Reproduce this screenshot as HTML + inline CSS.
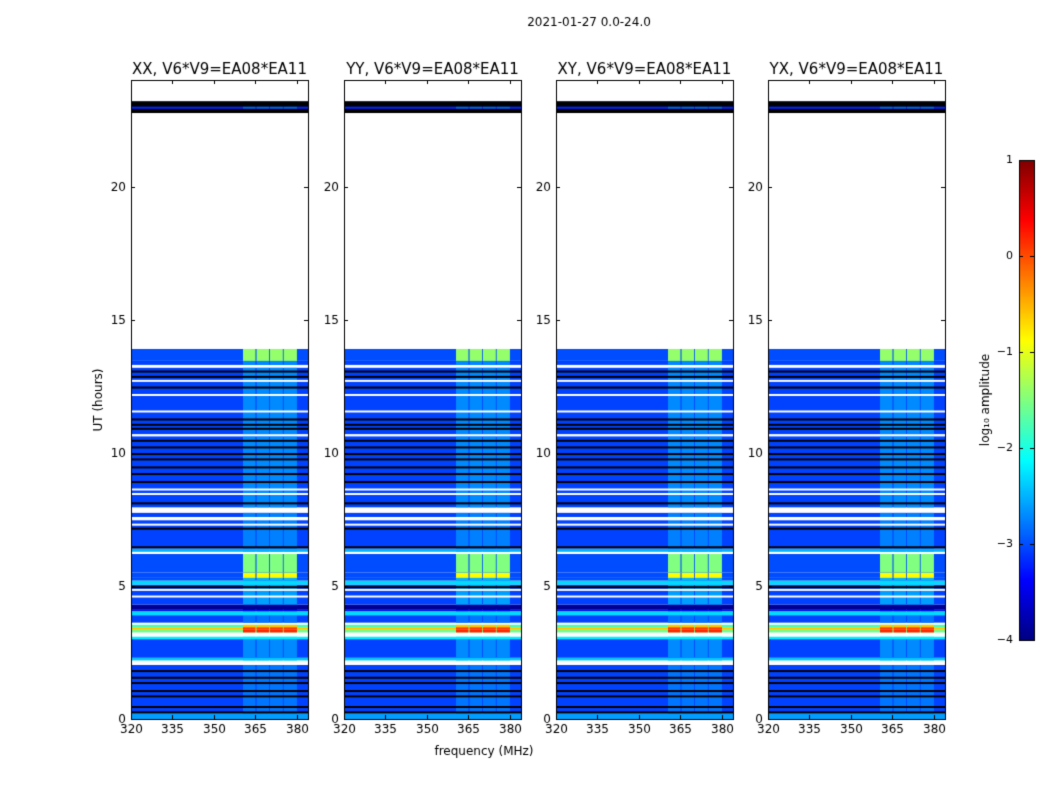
<!DOCTYPE html>
<html><head><meta charset="utf-8">
<style>
body{margin:0;background:#fff;}
#wrap{position:relative;width:1050px;height:800px;font-family:"DejaVu Sans","Liberation Sans",sans-serif;color:#000;}
canvas{position:absolute;left:0;top:0;}
</style></head>
<body>
<div id="wrap">
<canvas id="cv" width="1050" height="800"></canvas>
</div>
<script>
// ---- data ----
const panelTitles = ["XX, V6*V9=EA08*EA11","YY, V6*V9=EA08*EA11","XY, V6*V9=EA08*EA11","YX, V6*V9=EA08*EA11"];
const suptitle = "2021-01-27 0.0-24.0";
const freqTicks = [320,335,350,365,380];
const timeTicks = [0,5,10,15,20];
const cbarTicks = [-4,-3,-2,-1,0,1];
// segments: start hour, end hour, base log10 amplitude (null = no data/white)
const segStart = [0.0,0.2,2.03,2.2,2.3,3.0,3.1,3.25,3.35,3.45,3.55,3.62,3.9,4.05,4.1,4.3,5.05,5.2,5.3,5.5,6.2,6.28,6.4,7.75,7.95,10.62,10.7,13.2,13.3,13.45,13.9,22.76,23.2];
const segEnd   = [0.2,2.03,2.2,2.3,3.0,3.1,3.25,3.35,3.45,3.55,3.62,3.9,4.05,4.1,4.3,5.05,5.2,5.3,5.5,6.2,6.28,6.4,7.75,7.95,10.62,10.7,13.2,13.3,13.45,13.9,22.76,23.2,24.0];
const segBase  = [-2.6,-3.05,null,-2.4,-3.05,-2.2,null,-1.6,-0.6,-1.8,null,-3.05,-2.3,-3.3,-3.9,-3.05,-2.3,-3.0,-3.0,-3.0,null,-2.5,-3.05,null,-3.05,null,-3.05,null,-3.05,-3.0,null,-3.2,null];
// amplitude inside the 360-380 MHz band blocks
const segBand  = [-2.6,-2.8,null,-2.4,-2.7,-2.2,null,0.2,0.1,-0.6,null,-2.8,-2.3,-3.3,-3.9,-2.6,-2.3,-2.5,-0.9,-1.5,null,-2.5,-2.75,null,-2.7,null,-2.7,null,-2.7,-1.4,null,-2.9,null];
// thin flagged (black) and blank (white) rows, hours
const blackRows = [0.25,0.45,0.85,1.05,1.35,1.55,1.8,4.95,6.45,7.15,8.1,8.9,9.2,9.45,9.75,9.95,10.2,10.45,10.9,11.05,11.25,12.45,12.85,13.05,22.8];
const whiteRows = [4.6,4.85,7.3,7.5,7.55,8.45,8.62,11.55,12.17,12.7];
const bandLo = [360.5,365.4,370.2,375.2];
const bandHi = [365.0,369.9,374.9,380.0];

// ---- geometry ----
const panelX0 = [131,344,556,768], panelW = 177, yTop = 80, yBot = 719;
const fMin = 320, fMax = 384.0, tMin = 0, tMax = 24;
const cv = document.getElementById('cv'), ctx = cv.getContext('2d');
function xs(p,f){return panelX0[p]+(f-fMin)/(fMax-fMin)*panelW;}
function ys(t){return yBot-(t-tMin)/(tMax-tMin)*(yBot-yTop);}
function jet(v){ // v in [-4,1]
  let x=(v+4)/5; x=Math.max(0,Math.min(1,x));
  const c=t=>Math.round(255*Math.max(0,Math.min(1,t)));
  return `rgb(${c(1.5-Math.abs(4*x-3))},${c(1.5-Math.abs(4*x-2))},${c(1.5-Math.abs(4*x-1))})`;
}
ctx.fillStyle='#fff';ctx.fillRect(0,0,1050,800);
for(let p=0;p<4;p++){
  for(let i=0;i<segStart.length;i++){
    const y0=ys(segEnd[i]), y1=ys(segStart[i]);
    if(segBase[i]===null){ctx.fillStyle='#fff';ctx.fillRect(xs(p,fMin),y0,panelW,y1-y0);continue;}
    ctx.fillStyle=jet(segBase[i]);ctx.fillRect(xs(p,fMin),y0,panelW,y1-y0);
    ctx.fillStyle=jet(segBand[i]);
    for(let b=0;b<bandLo.length;b++){ctx.fillRect(xs(p,bandLo[b]),y0,xs(p,bandHi[b])-xs(p,bandLo[b]),y1-y0);}
  }
  ctx.fillStyle='#000';
  blackRows.forEach(t=>ctx.fillRect(xs(p,fMin),ys(t)-1,panelW,2));
  ctx.fillRect(xs(p,fMin),ys(23.2),panelW,ys(23.0)-ys(23.2));
  ctx.fillRect(xs(p,fMin),ys(22.92),panelW,ys(22.76)-ys(22.92));
  ctx.fillStyle='#fff';
  whiteRows.forEach(t=>ctx.fillRect(xs(p,fMin),ys(t)-1,panelW,2));
  // frame
  ctx.strokeStyle='#000';ctx.lineWidth=1;
  ctx.strokeRect(panelX0[p]+0.5,yTop+0.5,panelW,yBot-yTop);
  ctx.fillStyle='#000';ctx.font='12px "DejaVu Sans",sans-serif';
  ctx.textAlign='center';ctx.textBaseline='top';
  freqTicks.forEach(f=>{const x=Math.round(xs(p,f))+0.5;
    ctx.beginPath();ctx.moveTo(x,yBot);ctx.lineTo(x,yBot-4);ctx.moveTo(x,yTop);ctx.lineTo(x,yTop+4);ctx.stroke();
    ctx.fillText(String(f),x,yBot+5);});
  ctx.textAlign='right';ctx.textBaseline='middle';
  timeTicks.forEach(t=>{const y=Math.round(ys(t))+0.5;
    ctx.beginPath();ctx.moveTo(panelX0[p],y);ctx.lineTo(panelX0[p]+4,y);ctx.moveTo(panelX0[p]+panelW,y);ctx.lineTo(panelX0[p]+panelW-4,y);ctx.stroke();
    ctx.fillText(String(t),panelX0[p]-5,y);});
  ctx.textAlign='center';ctx.textBaseline='alphabetic';ctx.font='15px "DejaVu Sans",sans-serif';
  ctx.fillText(panelTitles[p],panelX0[p]+panelW/2,74);
}
ctx.fillStyle='#000';
ctx.font='12px "DejaVu Sans",sans-serif';ctx.textAlign='center';
ctx.fillText(suptitle,589,26);
ctx.fillText('frequency (MHz)',484,755);
ctx.save();ctx.translate(102,400);ctx.rotate(-Math.PI/2);ctx.fillText('UT (hours)',0,0);ctx.restore();
// colorbar
const cbX=1019,cbW=15,cbT=160,cbB=640;
for(let y=cbT;y<cbB;y++){ctx.fillStyle=jet(1-(y-cbT)/(cbB-cbT)*5);ctx.fillRect(cbX,y,cbW,1);}
ctx.strokeStyle='#000';ctx.strokeRect(cbX+0.5,cbT+0.5,cbW,cbB-cbT);
ctx.fillStyle='#000';
ctx.font='11px "DejaVu Sans",sans-serif';ctx.textAlign='right';ctx.textBaseline='middle';
cbarTicks.forEach(v=>{const y=Math.round(cbB-(v+4)/5*(cbB-cbT))+0.5;
  ctx.beginPath();ctx.moveTo(cbX,y);ctx.lineTo(cbX+4,y);ctx.moveTo(cbX+cbW,y);ctx.lineTo(cbX+cbW-4,y);ctx.stroke();
  ctx.fillText(String(v).replace('-','\u2212'),1013,y);});
ctx.save();ctx.translate(986,400);ctx.rotate(-Math.PI/2);ctx.textAlign='center';ctx.textBaseline='middle';
ctx.fillStyle='#000';
ctx.font='12px "DejaVu Sans",sans-serif';ctx.fillText('log\u2081\u2080 amplitude',0,0);ctx.restore();
</script>
</body></html>
